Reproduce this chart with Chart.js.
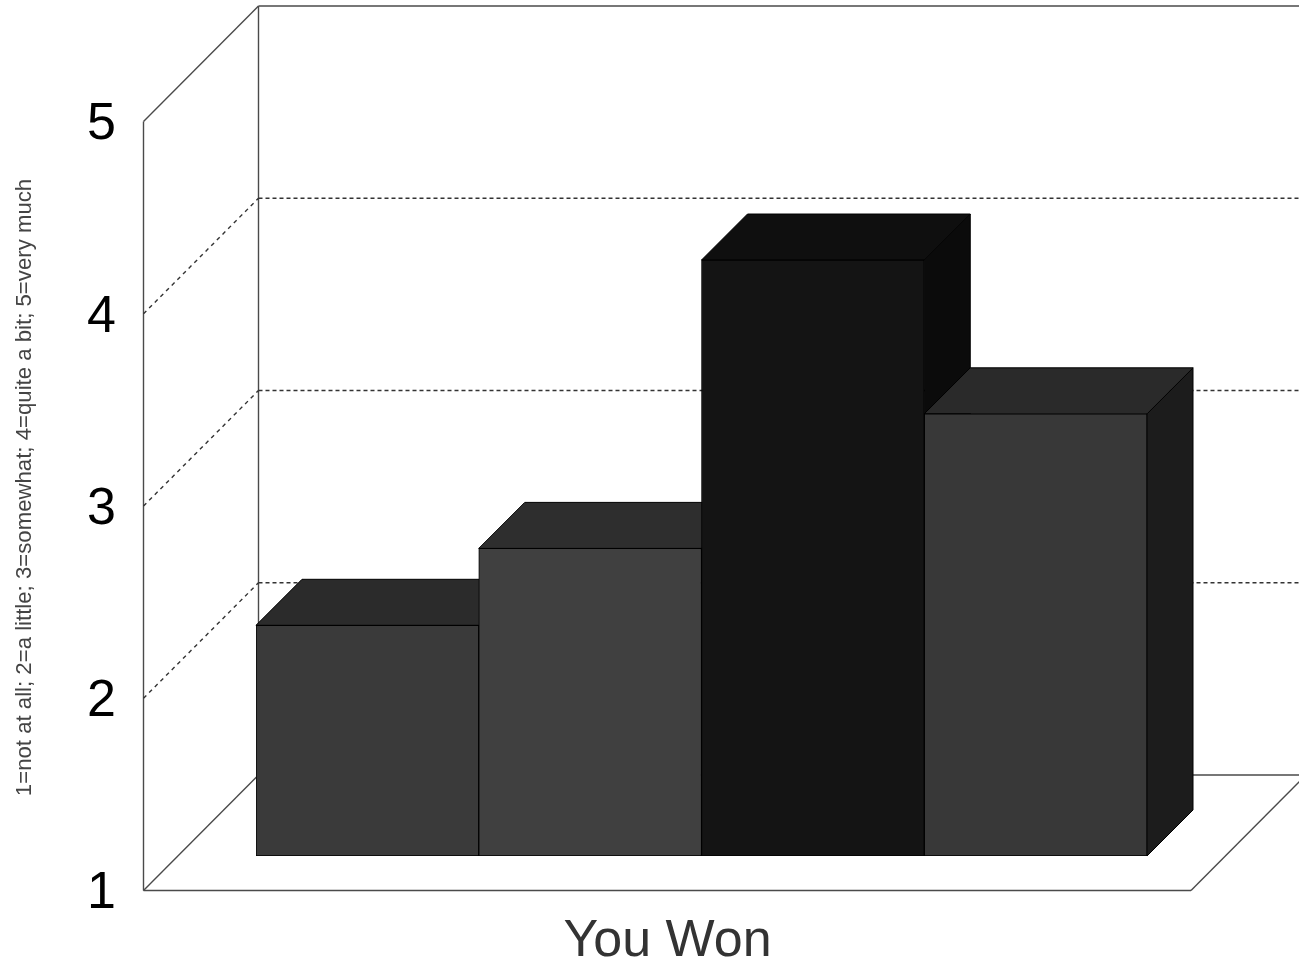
<!DOCTYPE html>
<html>
<head>
<meta charset="utf-8">
<title>You Won</title>
<script src="https://cdn.jsdelivr.net/npm/chart.js@4"></script>
<style>
  html, body { margin: 0; padding: 0; background: #fff; overflow: hidden; }
  canvas { display: block; }
</style>
</head>
<body>
<canvas id="wonChart" width="1299" height="962"></canvas>
<script>
// values
const categories = ['You Won'];
const seriesA = [2.2];
const seriesB = [2.6];
const seriesC = [4.1];
const seriesD = [3.3];
const valueTicks = [1, 2, 3, 4, 5];
const gridValues = [2, 3, 4];
const axisNote = '1=not at all; 2=a little; 3=somewhat; 4=quite a bit; 5=very much';

const frontColors = ['#3a3a3a', '#404040', '#141414', '#383838'];
const topColors = ['#2b2b2b', '#2e2e2e', '#0f0f0f', '#2a2a2a'];
const sideColors = ['#1d1d1d', '#202020', '#0b0b0b', '#1c1c1c'];

const barDepth = 46;
const lineColor = '#4a4a4a';

function line(ctx, x1, y1, x2, y2) {
  ctx.beginPath();
  ctx.moveTo(x1, y1);
  ctx.lineTo(x2, y2);
  ctx.stroke();
}

function face(ctx, points, fill) {
  ctx.beginPath();
  points.forEach(function (p, i) {
    if (i === 0) ctx.moveTo(p[0], p[1]);
    else ctx.lineTo(p[0], p[1]);
  });
  ctx.closePath();
  ctx.fillStyle = fill;
  ctx.fill();
  ctx.strokeStyle = '#000';
  ctx.lineWidth = 1;
  ctx.stroke();
}

// walls and floor, then the tops and sides of the bars. The fronts come from Chart.js
const box3d = {
  id: 'box3d',
  beforeDatasetsDraw: function (chart) {
    const ctx = chart.ctx;
    const y = chart.scales.y;
    const area = chart.chartArea;
    const frontL = area.left - 112.5;
    const frontR = area.right + 44;
    const backL = area.left + 2.5;
    const front = function (v) { return y.getPixelForValue(v) + 34.5; };
    const back = function (v) { return y.getPixelForValue(v) - 81; };
    const depth = backL - frontL;

    ctx.save();
    ctx.strokeStyle = lineColor;
    ctx.lineWidth = 1.4;
    // solid frame
    line(ctx, frontL, front(5), frontL, front(1));
    line(ctx, frontL, front(1), frontR, front(1));
    line(ctx, frontL, front(5), backL, back(5));
    line(ctx, frontL, front(1), backL, back(1));
    line(ctx, backL, back(5), backL, back(1));
    line(ctx, backL, back(5), chart.width, back(5));
    line(ctx, backL, back(1), chart.width, back(1));
    line(ctx, frontR, front(1), frontR + depth, back(1));

    // dotted grid on both walls
    ctx.strokeStyle = '#333';
    gridValues.forEach(function (v) {
      ctx.setLineDash([4, 4]);
      line(ctx, frontL, front(v), backL, back(v));
      ctx.setLineDash([4, 3]);
      line(ctx, backL, back(v), chart.width, back(v));
    });
    ctx.setLineDash([]);

    chart.data.datasets.forEach(function (ds, i) {
      const bar = chart.getDatasetMeta(i).data[0];
      const l = bar.x - bar.width / 2;
      const r = bar.x + bar.width / 2;
      face(ctx, [[r, bar.y], [r + barDepth, bar.y - barDepth], [r + barDepth, bar.base - barDepth], [r, bar.base]], sideColors[i]);
      face(ctx, [[l, bar.y], [l + barDepth, bar.y - barDepth], [r + barDepth, bar.y - barDepth], [r, bar.y]], topColors[i]);
    });
    ctx.restore();
  },
  afterDraw: function (chart) {
    const ctx = chart.ctx;
    const area = chart.chartArea;
    ctx.save();
    ctx.translate(25, (area.top + area.bottom) / 2 + 16);
    ctx.rotate(-Math.PI / 2);
    ctx.font = '22.2px "Liberation Sans"';
    ctx.fillStyle = '#444';
    ctx.textAlign = 'center';
    ctx.textBaseline = 'middle';
    ctx.fillText(axisNote, 0, 0);
    ctx.restore();
  }
};

const allSeries = [seriesA, seriesB, seriesC, seriesD];

new Chart(document.getElementById('wonChart'), {
  type: 'bar',
  data: {
    labels: categories,
    datasets: allSeries.map(function (values, i) {
      return {
        label: 'Series ' + (i + 1),
        data: values,
        base: 1,
        backgroundColor: frontColors[i],
        borderColor: '#000',
        borderWidth: 1,
        borderSkipped: false,
        barPercentage: 1,
        categoryPercentage: 1
      };
    })
  },
  options: {
    responsive: false,
    animation: false,
    layout: { padding: { top: 87, right: 152, left: 0, bottom: 0 } },
    plugins: {
      legend: { display: false },
      tooltip: { enabled: false }
    },
    scales: {
      x: {
        grid: { display: false, drawTicks: false },
        border: { display: false },
        afterFit: function (scale) {
          scale.height = 106;
          scale.paddingLeft = 0;
          scale.paddingRight = 0;
        },
        ticks: {
          color: '#333',
          font: { family: '"Liberation Sans"', size: 52 },
          padding: 54,
          labelOffset: -34,
          autoSkip: false,
          maxRotation: 0
        }
      },
      y: {
        min: 1,
        max: 5,
        grid: { display: false, drawTicks: false },
        border: { display: false },
        // the big tick padding would otherwise squeeze the plot from top and bottom
        afterFit: function (scale) {
          scale.width = 256;
          scale.paddingTop = 0;
          scale.paddingBottom = 0;
        },
        afterBuildTicks: function (scale) {
          scale.ticks = valueTicks.map(function (v) { return { value: v }; });
        },
        ticks: {
          color: '#000',
          font: { family: '"Liberation Sans"', size: 52 },
          padding: 140,
          labelOffset: 38,
          autoSkip: false,
          maxRotation: 0,
          minRotation: 0
        }
      }
    }
  },
  plugins: [box3d]
});
</script>
</body>
</html>
